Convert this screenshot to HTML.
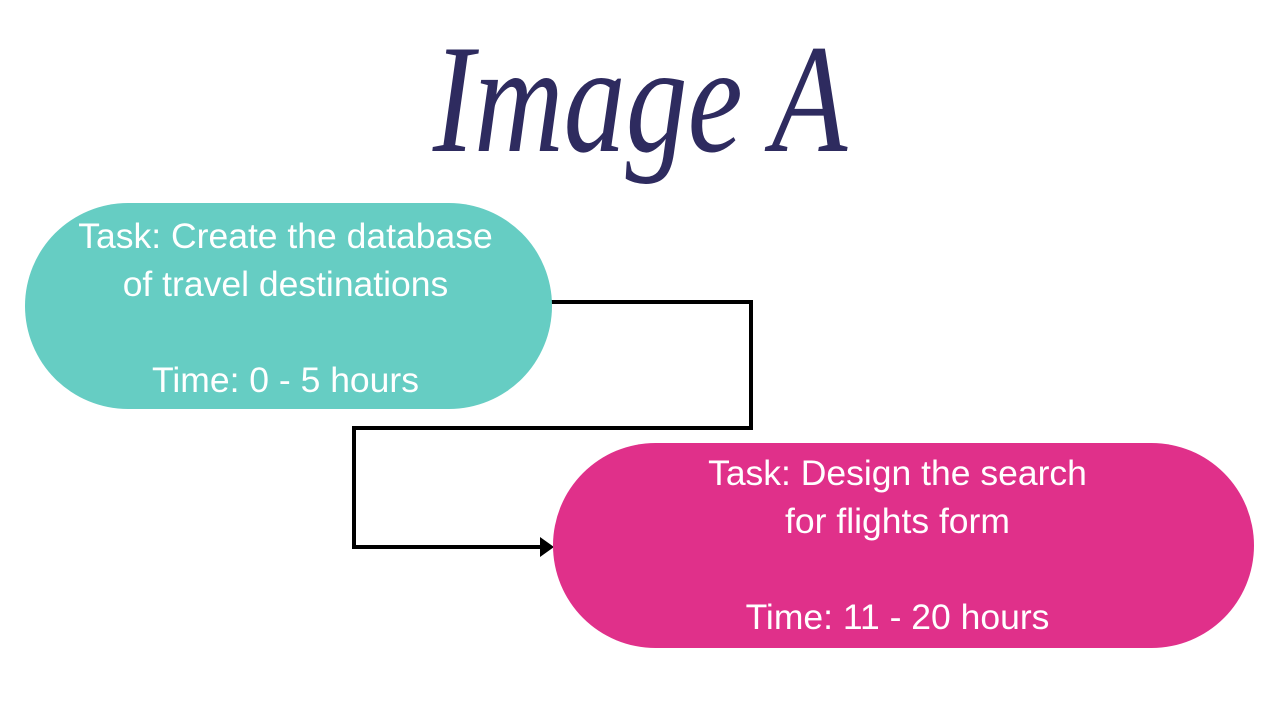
<!DOCTYPE html>
<html><head><meta charset="utf-8"><style>
html,body{margin:0;padding:0;background:#fff;}
body{width:1280px;height:720px;position:relative;overflow:hidden;font-family:"Liberation Sans",sans-serif;}
.title{position:absolute;left:0;width:1280px;top:14px;text-align:center;font-family:"Liberation Serif",serif;font-style:italic;font-size:155px;color:#2e2b5f;line-height:170px;transform:scaleX(0.8);transform-origin:640px 0;}
.pill{position:absolute;border-radius:103px;color:#fff;text-align:center;font-size:35.5px;line-height:48px;}
.t{position:absolute;left:0;width:100%;}
</style></head><body>
<div class="title">Image A</div>
<svg width="1280" height="720" style="position:absolute;left:0;top:0">
<polyline points="550,302 751,302 751,428 354,428 354,547 542,547" fill="none" stroke="#000" stroke-width="4"/>
<polygon points="540,537 554,547 540,557" fill="#000"/>
</svg>
<div class="pill" style="left:25px;top:203px;width:527px;height:206px;background:#66cdc3;">
<div class="t" style="top:9px;left:-3px;">Task: Create the database<br>of travel destinations<br><br>Time: 0 - 5 hours</div>
</div>
<div class="pill" style="left:553px;top:443px;width:701px;height:205px;background:#e0308a;">
<div class="t" style="top:6px;left:-6px;">Task: Design the search<br>for flights form<br><br>Time: 11 - 20 hours</div>
</div>
</body></html>
